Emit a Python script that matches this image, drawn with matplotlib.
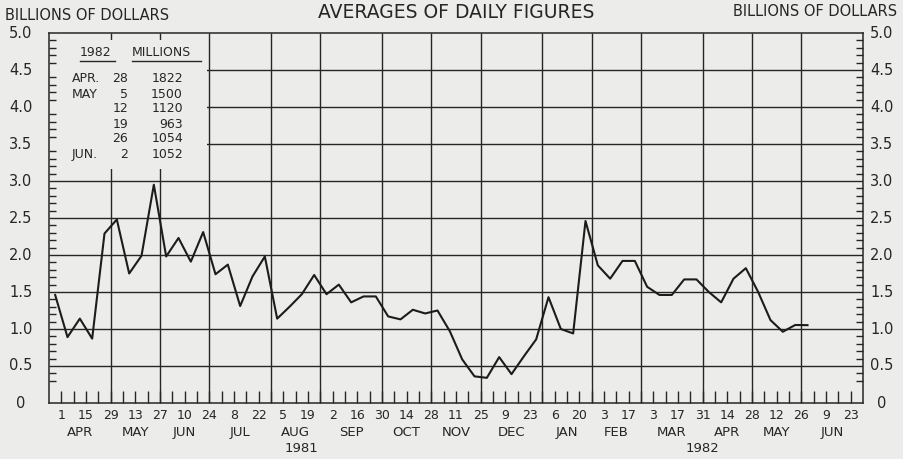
'''
weekly averages of daily figures, apr 1981 - jun 1982
'''

import numpy as np
import pandas as pd
import matplotlib
matplotlib.use('Agg')
import matplotlib.pyplot as plt
from matplotlib.patches import Rectangle
from matplotlib.lines import Line2D
from matplotlib.transforms import blended_transform_factory

# weeks ending Wednesday, billions of dollars (Apr 1 1981 .. Apr 21 1982)
weekly_avg = [1.46, 0.89, 1.14, 0.87, 2.29, 2.48, 1.75, 1.99, 2.95, 1.98,
              2.23, 1.91, 2.31, 1.74, 1.87, 1.31, 1.71, 1.98, 1.14, 1.30,
              1.47, 1.73, 1.47, 1.60, 1.36, 1.44, 1.44, 1.17, 1.13, 1.26,
              1.21, 1.25, 0.97, 0.59, 0.36, 0.34, 0.62, 0.39, 0.63, 0.86,
              1.43, 1.00, 0.94, 2.46, 1.86, 1.68, 1.92, 1.92, 1.57, 1.46,
              1.46, 1.67, 1.67, 1.50, 1.36, 1.68]
# latest weeks, from the inset table (millions)
table_months = ['APR.', 'MAY', '', '', '', 'JUN.']
table_days = ['28', '5', '12', '19', '26', '2']
table_millions = [1822, 1500, 1120, 963, 1054, 1052]

day_labels = ['1', '15', '29', '13', '27', '10', '24', '8', '22', '5', '19',
              '2', '16', '30', '14', '28', '11', '25', '9', '23', '6', '20',
              '3', '17', '3', '17', '31', '14', '28', '12', '26', '9', '23']
month_labels = ['APR', 'MAY', 'JUN', 'JUL', 'AUG', 'SEP', 'OCT', 'NOV',
                'DEC', 'JAN', 'FEB', 'MAR', 'APR', 'MAY', 'JUN']
year_labels = ['1981', '1982']
y_labels = ['0', '0.5', '1.0', '1.5', '2.0', '2.5', '3.0', '3.5', '4.0',
            '4.5', '5.0']

W, H = 904, 459
BG = '#ececea'
INK = '#262626'

series = weekly_avg + [m / 1000.0 for m in table_millions]
start = pd.Timestamp('1981-03-25')
dates = pd.date_range('1981-04-01', periods=len(series), freq='7D')
# week index, point sits half a week before its week-ending tick
xs = np.array([(d - start).days / 7.0 for d in dates]) - 0.5

ticks = pd.date_range('1981-04-01', '1982-06-30', freq='7D')
tick_x = np.array([(d - start).days / 7.0 for d in ticks])
grid_x = [x for d, x in zip(ticks, tick_x)
          if (d + pd.Timedelta(days=7)).month != d.month]
xmax = tick_x[-1]


def fpx(x, y):
    return x / W, 1 - y / H


fig = plt.figure(figsize=(W / 100, H / 100), dpi=100, facecolor=BG)
ax = fig.add_axes([49 / W, 1 - 403 / H, 814 / W, 370 / H], facecolor=BG)
ax.set_xlim(0, xmax)
ax.set_ylim(0, 5)

# grid
ax.hlines(np.arange(1, 10) * 0.5, 0, xmax, color=INK, lw=1.0, zorder=1)
ax.vlines(grid_x[:-1], 0, 5, color=INK, lw=1.0, zorder=1)
# blank area behind the inset table
ax.add_patch(Rectangle((0, 3.16), 12.8, 1.74, facecolor=BG,
                       edgecolor='none', zorder=1.5))

ax.plot(xs, series, color='#1c1c1c', lw=1.5, zorder=3)

for s in ax.spines.values():
    s.set_color(INK)
    s.set_linewidth(1.1)

# x axis: weekly ticks, day numbers every other week
ax.set_xticks(tick_x[0:-1:2], labels=day_labels)
ax.set_xticks(tick_x[:-1], minor=True)
ax.tick_params(axis='x', which='both', direction='in', length=8.5,
               width=1.0, color=INK, pad=4, labelsize=9, labelcolor=INK)

# y axis: small ticks every 0.1 on both sides, labels drawn as text
ax.set_yticks(np.arange(11) * 0.5, labels=[])
ax.set_yticks(np.round(np.arange(3, 50) / 10.0, 1), minor=True)
ax.tick_params(axis='y', which='major', length=0)
ax.tick_params(axis='y', which='minor', direction='in', length=5,
               width=1.0, color=INK, left=True, right=True)
trans_y = blended_transform_factory(fig.transFigure, ax.transData)
for v, lab in zip(np.arange(11) * 0.5, y_labels):
    ax.text(21 / W, v, lab, transform=trans_y, ha='center', va='center',
            fontsize=10.5, color=INK)
    ax.text(882 / W, v, lab, transform=trans_y, ha='center', va='center',
            fontsize=10.5, color=INK)

# month names centred between gridlines
trans_x = blended_transform_factory(ax.transData, ax.transAxes)
bounds = [0] + grid_x
for i, name in enumerate(month_labels):
    ax.text((bounds[i] + bounds[i + 1]) / 2, -0.081, name, transform=trans_x,
            ha='center', va='center', fontsize=9.5, color=INK)
for xpos, yr in zip([20.5, 53], year_labels):
    ax.text(xpos, -0.124, yr, transform=trans_x, ha='center', va='center',
            fontsize=9.5, color=INK)

fig.text(*fpx(456, 13), 'AVERAGES OF DAILY FIGURES', ha='center',
         va='center', fontsize=13.5, color=INK)
fig.text(*fpx(5, 16), 'BILLIONS OF DOLLARS', ha='left', va='center',
         fontsize=10.5, color=INK)
fig.text(*fpx(897, 11), 'BILLIONS OF DOLLARS', ha='right', va='center',
         fontsize=10.5, color=INK)

# inset table
fig.text(*fpx(80, 53), '1982', ha='left', va='center', fontsize=9, color=INK)
fig.text(*fpx(132, 53), 'MILLIONS', ha='left', va='center', fontsize=9,
         color=INK)
for x0, x1 in [(80, 115), (132, 201)]:
    fig.add_artist(Line2D([x0 / W, x1 / W], [1 - 61 / H, 1 - 61 / H],
                          transform=fig.transFigure, color=INK, lw=1.0))
for i, (mo, dy, mil) in enumerate(zip(table_months, table_days,
                                      table_millions)):
    y = 79 + 15 * i
    fig.text(*fpx(72, y), mo, ha='left', va='center', fontsize=9, color=INK)
    fig.text(*fpx(128, y), dy, ha='right', va='center', fontsize=9, color=INK)
    fig.text(*fpx(183, y), str(mil), ha='right', va='center', fontsize=9,
             color=INK)

fig.savefig('out.png', dpi=100, facecolor=BG)
